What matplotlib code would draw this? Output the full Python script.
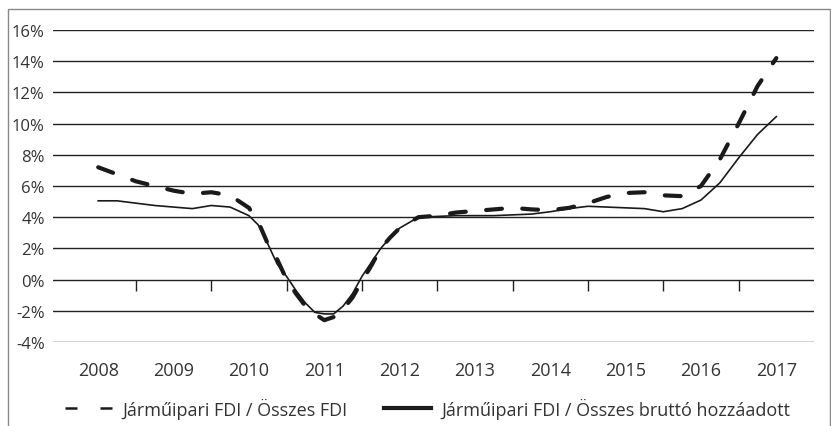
import numpy as np
import matplotlib.pyplot as plt
from matplotlib.lines import Line2D
from matplotlib.patches import Rectangle

plt.rcParams['font.family'] = ['Open Sans', 'DejaVu Sans']

years = ['2008', '2009', '2010', '2011', '2012', '2013', '2014', '2015', '2016', '2017']

# time positions (fractional years) where the curves were read
t_fdi = [2008.0, 2008.25, 2008.5, 2008.75, 2009.0, 2009.25, 2009.5, 2009.75,
         2010.0, 2010.125, 2010.25, 2010.375, 2010.5, 2010.625, 2010.75, 2010.875,
         2011.0, 2011.125, 2011.25, 2011.375, 2011.5, 2011.625, 2011.75, 2011.875,
         2012.0, 2012.25, 2012.5, 2012.75, 2013.0, 2013.25, 2013.5, 2013.75,
         2014.0, 2014.25, 2014.5, 2014.75, 2015.0, 2015.25, 2015.5, 2015.75,
         2016.0, 2016.25, 2016.5, 2016.75, 2017.0]
fdi_share = [7.2, 6.75, 6.3, 6.0, 5.7, 5.5, 5.6, 5.4,
             4.6, 3.7, 2.3, 1.3, 0.0, -0.9, -1.7, -2.2,
             -2.6, -2.4, -1.9, -1.15, -0.1, 0.9, 2.0, 2.7,
             3.3, 4.0, 4.1, 4.3, 4.4, 4.5, 4.6, 4.5,
             4.45, 4.6, 4.9, 5.3, 5.55, 5.6, 5.4, 5.35,
             6.0, 7.7, 10.0, 12.4, 14.2]

t_gva = t_fdi
gva_share = [5.05, 5.05, 4.9, 4.75, 4.65, 4.55, 4.75, 4.65,
             4.1, 3.5, 2.3, 1.0, 0.2, -0.7, -1.5, -2.1,
             -2.2, -2.2, -1.7, -0.9, 0.2, 1.1, 2.0, 2.7,
             3.3, 4.0, 4.05, 4.1, 4.1, 4.1, 4.15, 4.2,
             4.35, 4.55, 4.7, 4.65, 4.6, 4.55, 4.35, 4.55,
             5.1, 6.2, 7.8, 9.3, 10.45]

label_fdi = 'Járműipari FDI / Összes FDI'
label_gva = 'Járműipari FDI / Összes bruttó hozzáadott'

txt = '#333333'
W, H = 831, 427
fig = plt.figure(figsize=(W / 100, H / 100), dpi=100)
ax = fig.add_axes([53 / W, 1 - 343 / H, (814 - 53) / W, (343 - 31) / H])

x_fdi = np.array(t_fdi) - 2008
x_gva = np.array(t_gva) - 2008
ax.plot(x_gva, gva_share, color='#1a1a1a', lw=1.2, zorder=3)
ax.plot(x_fdi, fdi_share, color='#1a1a1a', lw=3.0, linestyle=(0, (3.8, 4.9)),
        dash_capstyle='round', zorder=4)

ax.set_ylim(-4, 16)
ax.set_xlim(-0.6, 9.5)
ax.set_yticks(np.arange(-4, 17, 2))
ax.set_yticklabels([f'{v}%' for v in range(-4, 17, 2)])
ax.yaxis.grid(True, color='#222222', lw=1.0)
ax.set_axisbelow(True)
for s in ax.spines.values():
    s.set_visible(False)
ax.tick_params(axis='y', length=0, pad=6, labelsize=12, labelcolor=txt)

ax.set_xticks(range(len(years)))
ax.set_xticklabels(years)
ax.tick_params(axis='x', length=0, pad=14, labelsize=13, labelcolor=txt)

# category boundary ticks on the zero line
sec = ax.secondary_xaxis(0.2)
sec.set_xticks(np.arange(0.5, len(years) - 1, 1.0))
sec.set_xticklabels([])
sec.spines['bottom'].set_visible(False)
sec.tick_params(axis='x', direction='out', length=8, width=1.0, color='#222222')

handles = [Line2D([], [], color='#1a1a1a', lw=1.8, linestyle=(0, (4.8, 9.2))),
           Line2D([], [], color='#1a1a1a', lw=3.0)]
fig.legend(handles, [label_fdi, label_gva], loc='center left',
           bbox_to_anchor=(65 / W, 1 - 409 / H), ncol=2, frameon=False,
           fontsize=13, labelcolor=txt, handlelength=2.6, handletextpad=0.6,
           columnspacing=2.0, borderpad=0, borderaxespad=0)

fig.patches.append(Rectangle((8 / W, -0.1), (830 - 8) / W, 1.1 - 10 / H,
                             transform=fig.transFigure, fill=False,
                             edgecolor='#888888', lw=1.0))

fig.savefig('out.png', dpi=100)
